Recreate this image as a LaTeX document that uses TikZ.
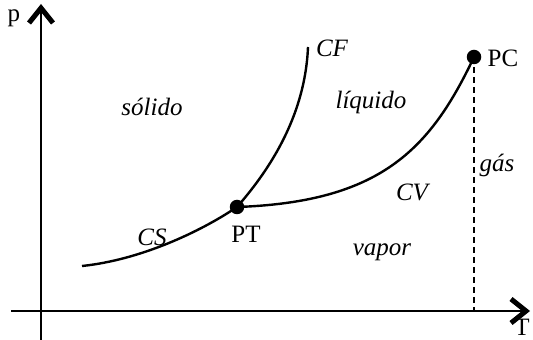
\documentclass[tikz,border=0pt]{standalone}
\usepackage{fontspec}
\setmainfont{Liberation Serif}
\usetikzlibrary{arrows.meta}
\begin{document}
\begin{tikzpicture}[x=1pt,y=1pt,
  lbl/.style={font=\fontsize{25}{28}\selectfont\itshape, inner sep=0pt},
  ulbl/.style={font=\fontsize{25}{28}\selectfont, inner sep=0pt},
  axis/.style={line width=2pt, -{Straight Barb[length=15pt,width=24pt,line width=5pt]}},
  curve/.style={line width=2.4pt},
  dot/.style={circle, fill=black, minimum size=14.5pt, inner sep=0pt}]
\useasboundingbox (0,0) rectangle (533,340);
% axes
\coordinate (xs) at (11,29);
\coordinate (xe) at (530,29);
\coordinate (ys) at (41,0);
\coordinate (ye) at (41,336);
\draw[axis] (xs) -- (xe);
\draw[axis] (ys) -- (ye);
\node[ulbl] (p) at (14,322) {p};
\node[ulbl] (T) at (522,13) {T};
% points
\coordinate (cs0) at (82,74);
\coordinate (cf1) at (308,293);
\node[dot] (PT) at (237,133) {};
\node[dot] (PC) at (474,283) {};
\coordinate (pcfoot) at (474,29);
% curves
\draw[curve] (cs0) .. controls (140,80) and (200,108) .. (PT.center);
\draw[curve] (PT.center) .. controls (265,165) and (305,220) .. (cf1);
\draw[curve] (PT.center) .. controls (380,138) and (430,190) .. (PC.center);
\draw[line width=1.1pt, dash pattern=on 6pt off 4pt] (PC.center) -- (pcfoot);
% labels
\node[lbl] (CF) at (332,292) {CF};
\node[lbl] (solido) at (152,233) {sólido};
\node[lbl] (liquido) at (371,238) {líquido};
\node[lbl] (gas) at (497,175) {gás};
\node[lbl] (CV) at (412,148) {CV};
\node[lbl] (CS) at (152,103) {CS};
\node[ulbl] (PTl) at (246,106) {PT};
\node[lbl] (vapor) at (382,88) {vapor};
\node[ulbl] (PCl) at (503,282) {PC};
\end{tikzpicture}
\end{document}
